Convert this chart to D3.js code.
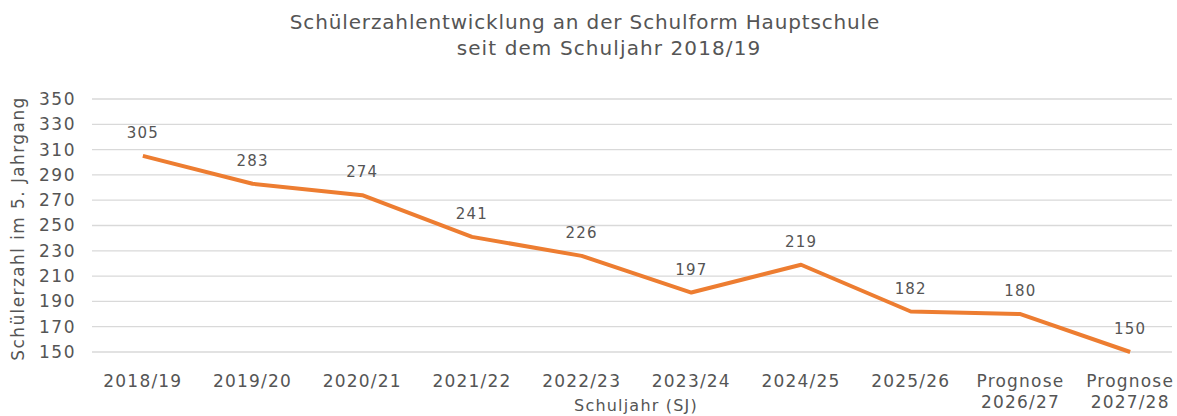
<!DOCTYPE html>
<html>
<head>
<meta charset="utf-8">
<script src="https://cdn.jsdelivr.net/npm/d3@7"></script>
<style>
  body { margin: 0; background: #fff; }
  text { font-family: "DejaVu Sans", Verdana, sans-serif; fill: #555555; }
</style>
</head>
<body>
<div id="chart"></div>
<script>
// Schuljahre und Schülerzahlen (5. Jahrgang)
var years = ["2018/19", "2019/20", "2020/21", "2021/22", "2022/23", "2023/24", "2024/25", "2025/26", "Prognose 2026/27", "Prognose 2027/28"];
var pupils = [305, 283, 274, 241, 226, 197, 219, 182, 180, 150];
var yTicks = [150, 170, 190, 210, 230, 250, 270, 290, 310, 330, 350];

var width = 1177, height = 416;
var margin = {top: 99, right: 0, bottom: 64, left: 88};

var svg = d3.select("#chart")
    .append("svg")
    .attr("width", width)
    .attr("height", height);

var g = svg.append("g")
    .attr("transform", "translate(" + margin.left + "," + margin.top + ")");

var innerW = 1097, innerH = height - margin.top - margin.bottom;

var x = d3.scaleBand()
    .domain(years)
    .range([0, innerW]);

var y = d3.scaleLinear()
    .domain([150, 350])
    .range([innerH, 0]);

// gridlines
g.append("g")
    .selectAll("line")
    .data(yTicks)
    .enter()
    .append("line")
    .attr("x1", 4)
    .attr("x2", 1084)
    .attr("y1", function (d) { return y(d); })
    .attr("y2", function (d) { return y(d); })
    .attr("stroke", "#d9d9d9")
    .attr("stroke-width", 1.3);

// y axis labels
var yAxis = g.append("g")
    .call(d3.axisLeft(y).tickValues(yTicks).tickSize(0).tickPadding(12));
yAxis.select(".domain").remove();
yAxis.selectAll("text")
    .attr("font-size", "17px")
    .attr("letter-spacing", "1.5px")
    .style("font-family", "DejaVu Sans, Verdana, sans-serif")
    .attr("fill", "#555555");

// x axis labels (two lines for Prognose)
var xAxis = g.append("g")
    .attr("transform", "translate(0," + innerH + ")");
years.forEach(function (d) {
    var parts = d.split(" ");
    var t = xAxis.append("text")
        .attr("x", x(d) + x.bandwidth() / 2)
        .attr("y", 35)
        .attr("text-anchor", "middle")
        .attr("letter-spacing", "1.2px")
        .attr("font-size", "17px");
    parts.forEach(function (p, i) {
        t.append("tspan")
            .attr("x", x(d) + x.bandwidth() / 2)
            .attr("dy", i === 0 ? 0 : 21)
            .text(p);
    });
});

// line
var line = d3.line()
    .x(function (d, i) { return x(years[i]) + x.bandwidth() / 2; })
    .y(function (d) { return y(d); });

g.append("path")
    .datum(pupils)
    .attr("d", line)
    .attr("fill", "none")
    .attr("stroke", "#ED7D31")
    .attr("stroke-width", 4)
    .attr("stroke-linejoin", "round");

// data labels
g.append("g")
    .selectAll("text")
    .data(pupils)
    .enter()
    .append("text")
    .attr("x", function (d, i) { return x(years[i]) + x.bandwidth() / 2; })
    .attr("y", function (d) { return y(d) - 18; })
    .attr("text-anchor", "middle")
    .attr("font-size", "15px")
    .attr("letter-spacing", "1.2px")
    .attr("fill", "#404040")
    .text(function (d) { return d; });

// titles
svg.append("text")
    .attr("x", 585)
    .attr("y", 29)
    .attr("text-anchor", "middle")
    .attr("font-size", "20px")
    .attr("letter-spacing", "0.85px")
    .text("Schülerzahlentwicklung an der Schulform Hauptschule");
svg.append("text")
    .attr("x", 609)
    .attr("y", 55)
    .attr("text-anchor", "middle")
    .attr("font-size", "20px")
    .attr("letter-spacing", "1.1px")
    .text("seit dem Schuljahr 2018/19");

svg.append("text")
    .attr("transform", "translate(24," + (margin.top + innerH / 2 + 3) + ") rotate(-90)")
    .attr("text-anchor", "middle")
    .attr("font-size", "17px")
    .attr("letter-spacing", "1.4px")
    .text("Schülerzahl im 5. Jahrgang");

svg.append("text")
    .attr("x", margin.left + 548)
    .attr("y", 411)
    .attr("text-anchor", "middle")
    .attr("font-size", "16px")
    .attr("letter-spacing", "1.2px")
    .text("Schuljahr (SJ)");
</script>
</body>
</html>
